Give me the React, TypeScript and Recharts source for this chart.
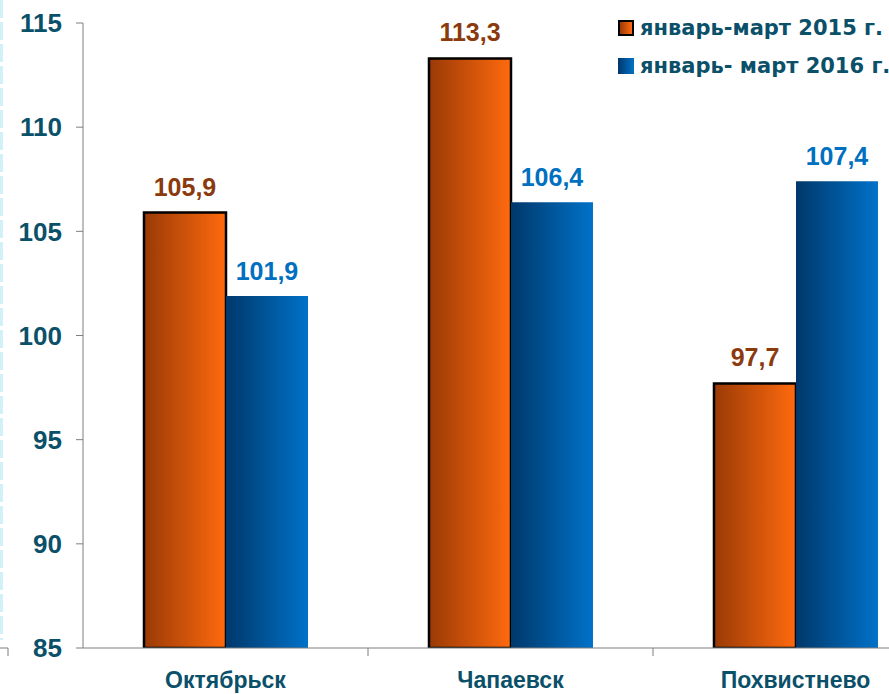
import React from 'react';
import { BarChart, Bar, XAxis, YAxis, LabelList } from 'recharts';

const cities = ['Октябрьск', 'Чапаевск', 'Похвистнево'];
const q2015 = [105.9, 113.3, 97.7];
const q2016 = [101.9, 106.4, 107.4];
const yTicks = [85, 90, 95, 100, 105, 110, 115];
const seriesNames = ['январь-март 2015 г.', 'январь- март 2016 г.'];

const data = cities.map((city, i) => ({ city, v2015: q2015[i], v2016: q2016[i] }));

const TEXT = '#0b5069';
const FONT = '"Liberation Sans", Arial, sans-serif';

const fmt = (v: any) => String(v).replace('.', ',');

function CityTick(props: any) {
  const { x, y, payload } = props;
  const half = payload && payload.offset ? payload.offset : 142.5;
  return (
    <g>
      <line x1={x + half} y1={y - 8} x2={x + half} y2={y} stroke="#7f7f7f" strokeWidth={1} />
      <text x={x} y={y + 32} textAnchor="middle" fill={TEXT} fontSize={23} fontWeight="bold" fontFamily={FONT}>
        {payload.value}
      </text>
    </g>
  );
}

function LegendBox() {
  const swatch = (fill: string, border: boolean) => (
    <span style={{
      display: 'inline-block', width: border ? 12 : 16, height: border ? 12 : 16,
      background: fill, border: border ? '2px solid #000' : 'none', marginRight: 6,
    }} />
  );
  return (
    <div style={{
      position: 'absolute', left: 618, top: 9, width: 280,
      fontFamily: '"DejaVu Sans", sans-serif', fontWeight: 'bold', fontSize: 21, color: TEXT, lineHeight: '38px',
    }}>
      <div style={{ display: 'flex', alignItems: 'center', whiteSpace: 'nowrap' }}>
        {swatch('linear-gradient(to right, #9a3a06, #ff6a0e)', true)}{seriesNames[0]}
      </div>
      <div style={{ display: 'flex', alignItems: 'center', whiteSpace: 'nowrap' }}>
        {swatch('linear-gradient(to right, #00386b, #0072c8)', false)}{seriesNames[1]}
      </div>
    </div>
  );
}

export default function App() {
  return (
    <div style={{ position: 'absolute', left: 0, top: 0, width: 889, height: 694, overflow: 'hidden', background: '#fff' }}>
      <svg width={889} height={694} style={{ position: 'absolute', left: 0, top: 0 }}>
        <line x1={1.5} y1={0} x2={1.5} y2={640} stroke="#d2f0f8" strokeWidth={3} strokeDasharray="18 4" />
        <polyline points="0,648 8,648 8,656" fill="none" stroke="#7f7f7f" strokeWidth={1} />
      </svg>
      <div style={{ position: 'absolute', left: 0, top: 0 }}>
        <BarChart
          width={960}
          height={694}
          data={data}
          margin={{ top: 23, right: 22, left: 8, bottom: 0 }}
          barCategoryGap="21.4%"
          barGap={0}
        >
          <defs>
            <linearGradient id="gOrange" x1="0" y1="0" x2="1" y2="0">
              <stop offset="0%" stopColor="#9a3a06" />
              <stop offset="100%" stopColor="#ff6a0e" />
            </linearGradient>
            <linearGradient id="gBlue" x1="0" y1="0" x2="1" y2="0">
              <stop offset="0%" stopColor="#00386b" />
              <stop offset="100%" stopColor="#0072c8" />
            </linearGradient>
          </defs>
          <XAxis
            dataKey="city"
            height={46}
            axisLine={{ stroke: '#7f7f7f' }}
            tickLine={false}
            tick={<CityTick />}
            interval={0}
          />
          <YAxis
            width={75}
            domain={[85, 115]}
            ticks={yTicks}
            allowDataOverflow
            axisLine={{ stroke: '#7f7f7f' }}
            tickLine={{ stroke: '#7f7f7f' }}
            tickSize={7}
            tickMargin={14}
            tick={{ fill: TEXT, fontSize: 26, fontWeight: 'bold', fontFamily: FONT }}
          />
          <Bar dataKey="v2015" name={seriesNames[0]} fill="url(#gOrange)" stroke="#000" strokeWidth={2.5} isAnimationActive={false}>
            <LabelList dataKey="v2015" position="top" offset={17} formatter={fmt}
              style={{ fill: '#8b3a0e', fontSize: 25, fontWeight: 'bold', fontFamily: FONT }} />
          </Bar>
          <Bar dataKey="v2016" name={seriesNames[1]} fill="url(#gBlue)" isAnimationActive={false}>
            <LabelList dataKey="v2016" position="top" offset={16} formatter={fmt}
              style={{ fill: '#0070c0', fontSize: 25, fontWeight: 'bold', fontFamily: FONT }} />
          </Bar>
        </BarChart>
      </div>
      <LegendBox />
    </div>
  );
}
